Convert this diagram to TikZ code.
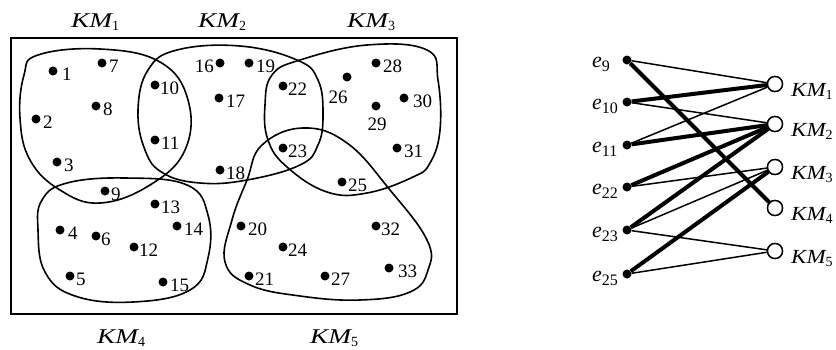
\documentclass[tikz,border=0pt]{standalone}
\usepackage{fontspec}
\usepackage{graphicx}
\setmainfont{Liberation Serif}
\newcommand{\kmtop}[1]{\scalebox{1.3}[1]{\fontsize{21}{24}\selectfont\itshape KM}\raisebox{-3.5pt}{\fontsize{14}{16}\selectfont #1}}
\newcommand{\kmright}[1]{\scalebox{1.15}[1]{\fontsize{20}{24}\selectfont\itshape KM}\raisebox{-3.5pt}{\fontsize{14}{16}\selectfont #1}}
\newcommand{\elab}[1]{{\fontsize{22}{24}\selectfont\itshape e}\raisebox{-4pt}{\fontsize{16}{18}\selectfont #1}}
\begin{document}
\begin{tikzpicture}[x=1pt,y=-1pt,
  every node/.style={font=\fontsize{19}{22}\selectfont},
  dot/.style={circle,fill=black,inner sep=0pt,minimum size=9pt},
  num/.style={anchor=base west,inner sep=0pt},
  numl/.style={anchor=base east,inner sep=0pt},
  km/.style={anchor=base west,inner sep=0pt},
  blob/.style={line width=1.6pt},
  enode/.style={circle,fill=black,inner sep=0pt,minimum size=9pt},
  knode/.style={circle,draw=black,fill=white,line width=1.4pt,inner sep=0pt,minimum size=15pt},
  thin edge/.style={line width=1.5pt},
  thick edge/.style={line width=4pt}]
\useasboundingbox (0,0) rectangle (836,349);
% frame
\draw[line width=1.6pt] (11,38) rectangle (457,314);
% cluster titles
\node[km] (t1) at (71,27) {\kmtop{1}};
\node[km] (t2) at (198,27) {\kmtop{2}};
\node[km] (t3) at (347,27) {\kmtop{3}};
\node[km] (t4) at (97,343) {\kmtop{4}};
\node[km] (t5) at (310,343) {\kmtop{5}};
% blobs
\draw[blob] plot[smooth cycle,tension=0.7] coordinates {(38,55) (100,49) (160,62) (188,100) (185,150) (150,185) (100,203) (60,190) (30,160) (20,118) (24,75)};
\draw[blob] plot[smooth cycle,tension=0.7] coordinates {(177,50) (240,46) (297,60) (318,80) (323,115) (318,145) (300,165) (247,180) (200,183) (163,173) (145,150) (138,110) (148,70)};
\draw[blob] plot[smooth cycle,tension=0.7] coordinates {(300,60) (367,45) (427,50) (438,80) (440,130) (430,163) (413,177) (367,193) (327,192) (287,167) (268,140) (265,105) (272,75)};
\draw[blob] plot[smooth cycle,tension=0.7] coordinates {(303,128) (347,143) (390,190) (427,240) (428,270) (410,292) (360,300) (300,296) (250,285) (225,262) (232,220) (247,180) (262,145)};
\draw[blob] plot[smooth cycle,tension=0.7] coordinates {(67,183) (125,178) (187,185) (208,215) (208,258) (190,290) (133,302) (75,296) (45,272) (38,230) (42,200)};
% points
\foreach \n/\x/\y/\d in {1/53/71/9,7/102/63/7,10/155/85/5,8/96/106/7,2/36/119/7,11/155/140/6,3/57/162/7,
  19/249/63/7,22/283/86/5,17/219/98/7,28/376/63/7,30/404/98/9,23/283/148/5,31/397/148/7,18/220/170/6,
  25/342/182/6,9/105/191/6,13/155/204/6,14/177/226/7,4/60/230/8,6/96/236/5,12/134/247/5,5/70/276/6,15/163/282/7,
  20/241/226/7,32/376/226/5,24/283/247/5,21/249/276/6,27/325/276/6,33/389/268/9}{
  \node[dot] (p\n) at (\x,\y) {};
  \node[num] (l\n) at (\x+\d,\y+9) {\n};
}
\node[dot] (p16) at (220,63) {};
\node[numl] (l16) at (214,72) {16};
\node[dot] (p26) at (347,77) {};
\node[anchor=base,inner sep=0pt] (l26) at (338,103) {26};
\node[dot] (p29) at (376,106) {};
\node[anchor=base,inner sep=0pt] (l29) at (377,130) {29};
% bipartite graph
\foreach \n/\y in {9/60,10/102,11/145,22/187,23/230,25/274}{
  \node[enode] (e\n) at (627,\y) {};
  \node[anchor=base west,inner sep=0pt] (le\n) at (592,\y+7) {\elab{\n}};
}
\foreach \n/\y in {1/84,2/124,3/167,4/208,5/251}{
  \node[knode] (k\n) at (775,\y) {};
}
\draw[thin edge] (e9) -- (k1);
\draw[thin edge] (e10) -- (k2);
\draw[thin edge] (e11) -- (k1);
\draw[thin edge] (e22) -- (k3);
\draw[thin edge] (e23) -- (k3);
\draw[thin edge] (e23) -- (k5);
\draw[thin edge] (e25) -- (k5);
\draw[thick edge] (e9) -- (k4);
\draw[thick edge] (e10) -- (k1);
\draw[thick edge] (e11) -- (k2);
\draw[thick edge] (e22) -- (k2);
\draw[thick edge] (e23) -- (k2);
\draw[thick edge] (e25) -- (k3);
\foreach \n/\y in {1/84,2/124,3/167,4/208,5/251}{
  \node[knode] (kk\n) at (775,\y) {};
  \node[anchor=base west,inner sep=0pt] (lk\n) at (791,\y+12) {\kmright{\n}};
}
\end{tikzpicture}
\end{document}
